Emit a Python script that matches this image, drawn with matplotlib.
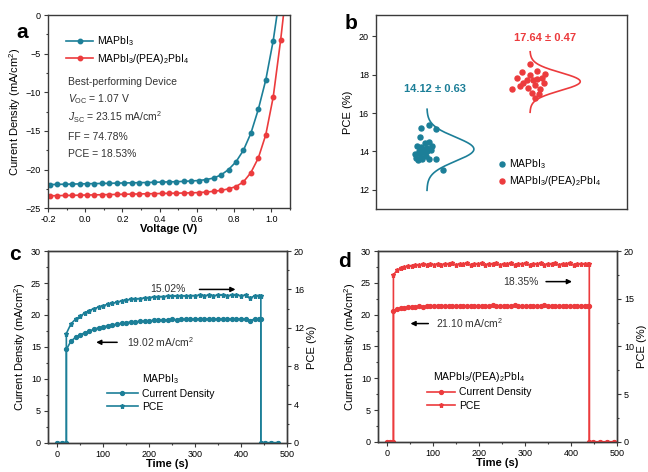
import matplotlib
matplotlib.use('Agg')
import matplotlib.pyplot as plt
import numpy as np

plt.rcParams['font.family'] = ['Liberation Sans', 'DejaVu Sans']
plt.rcParams['mathtext.fontset'] = 'custom'
plt.rcParams['mathtext.rm'] = 'Liberation Sans'
plt.rcParams['mathtext.it'] = 'Liberation Sans:italic'
plt.rcParams['mathtext.bf'] = 'Liberation Sans:bold'
plt.rcParams['mathtext.default'] = 'regular'

TEAL = '#1c7f98'
RED = '#ec3b3d'
SPINE = '#3a3a3a'

# ---- (a) J-V curves ----
voltage = [-0.19, -0.15, -0.11, -0.07, -0.03, 0.01, 0.05, 0.09, 0.13, 0.17, 0.21,
           0.25, 0.29, 0.33, 0.37, 0.41, 0.45, 0.49, 0.53, 0.57, 0.61, 0.65, 0.69,
           0.73, 0.77, 0.81, 0.85, 0.89, 0.93, 0.97, 1.01, 1.05, 1.09]
j_mapbi = [-21.95, -21.92, -21.9, -21.88, -21.86, -21.84, -21.82, -21.8, -21.78, -21.76, -21.74,
           -21.72, -21.7, -21.68, -21.65, -21.62, -21.6, -21.57, -21.53, -21.48, -21.42, -21.3, -21.1,
           -20.7, -20.0, -19.0, -17.5, -15.3, -12.2, -8.4, -3.3, 3.3, 12.0]
j_pea = [-23.4, -23.38, -23.36, -23.34, -23.32, -23.3, -23.28, -23.26, -23.24, -23.22, -23.2,
         -23.18, -23.16, -23.14, -23.12, -23.1, -23.08, -23.06, -23.04, -23.02, -22.98, -22.92, -22.82,
         -22.7, -22.5, -22.2, -21.6, -20.4, -18.5, -15.5, -10.6, -3.2, 5.3]

# ---- (b) PCE statistics ----
pce_x_mapbi = [1.78, 2.10, 2.39, 1.75, 1.62, 1.80, 1.95, 2.12, 2.25, 1.55, 1.70, 1.88, 2.02,
               2.20, 1.60, 1.78, 1.98, 2.10, 1.68, 1.85, 2.40, 2.66, 1.92, 2.05, 1.72]
pce_mapbi = [15.2, 15.38, 15.18, 14.77, 14.3, 14.25, 14.43, 14.5, 14.3, 13.85, 13.92, 13.95, 14.0,
             14.1, 13.65, 13.72, 13.75, 13.6, 13.55, 13.6, 13.62, 13.02, 14.15, 14.2, 14.05]
pce_x_pea = [6.14, 5.80, 6.40, 6.73, 5.60, 6.00, 6.40, 6.67, 5.41, 5.74, 6.07, 6.33, 6.53,
             6.20, 6.47, 6.33, 5.87, 6.60, 6.27, 6.14]
pce_pea = [18.58, 18.15, 18.2, 18.03, 17.85, 17.71, 17.75, 17.57, 17.23, 17.4, 17.33, 17.45, 17.23,
           17.06, 16.99, 16.8, 17.57, 17.85, 17.71, 17.97]
mean_mapbi, std_mapbi = 14.12, 0.63
mean_pea, std_pea = 17.64, 0.47

# ---- (c) steady-state output, MAPbI3 ----
t_c_on = list(range(20, 441, 10))
cd_c_on = [14.6, 15.9, 16.5, 16.9, 17.2, 17.5, 17.75, 18.0, 18.15, 18.3, 18.45, 18.55, 18.7,
           18.8, 18.9, 18.95, 19.0, 19.05, 19.1, 19.15, 19.2, 19.2, 19.25, 19.3, 19.25, 19.3,
           19.35, 19.3, 19.35, 19.4, 19.35, 19.4, 19.35, 19.4, 19.4, 19.35, 19.4, 19.4, 19.35,
           19.4, 19.1, 19.4, 19.4]
pce_c_on = [11.4, 12.4, 12.9, 13.2, 13.55, 13.8, 14.0, 14.15, 14.3, 14.45, 14.55, 14.65, 14.8,
            14.9, 14.95, 15.0, 15.05, 15.1, 15.15, 15.2, 15.25, 15.25, 15.3, 15.3, 15.3, 15.35,
            15.3, 15.35, 15.35, 15.4, 15.35, 15.4, 15.35, 15.4, 15.4, 15.35, 15.4, 15.4, 15.35,
            15.4, 15.1, 15.35, 15.35]

# ---- (d) steady-state output, MAPbI3/(PEA)2PbI4 ----
t_d_on = list(range(14, 439, 8))
cd_d_on = [20.6, 20.9, 21.0, 21.1, 21.15, 21.2, 21.25, 21.3, 21.25, 21.35, 21.3, 21.4, 21.3,
           21.4, 21.3, 21.4, 21.35, 21.4, 21.3, 21.4, 21.35, 21.4, 21.3, 21.4, 21.35, 21.4,
           21.3, 21.45, 21.35, 21.4, 21.3, 21.4, 21.35, 21.45, 21.3, 21.4, 21.35, 21.4, 21.3,
           21.4, 21.35, 21.45, 21.3, 21.4, 21.35, 21.4, 21.3, 21.4, 21.35, 21.4, 21.3, 21.4,
           21.35, 21.4]
pce_d_on = [17.5, 18.0, 18.2, 18.3, 18.4, 18.45, 18.5, 18.5, 18.6, 18.55, 18.65, 18.55, 18.65,
            18.55, 18.65, 18.6, 18.7, 18.55, 18.65, 18.6, 18.7, 18.55, 18.65, 18.6, 18.7, 18.55,
            18.65, 18.6, 18.7, 18.55, 18.65, 18.6, 18.7, 18.55, 18.65, 18.6, 18.7, 18.55, 18.65,
            18.6, 18.7, 18.55, 18.65, 18.6, 18.7, 18.55, 18.65, 18.6, 18.7, 18.55, 18.65, 18.6,
            18.65, 18.6]


def style_axes(ax):
    for sp in ax.spines.values():
        sp.set_color(SPINE)
        sp.set_linewidth(1.0)
    ax.tick_params(which='both', direction='out', labelsize=6.5, width=0.8, color=SPINE,
                   top=False, right=False, pad=2)
    ax.tick_params(which='major', length=3)
    ax.tick_params(which='minor', length=1.6)


fig = plt.figure(figsize=(6.48, 4.72), dpi=100)

# ===== panel a =====
ax_a = fig.add_axes([0.074, 0.559, 0.3735, 0.409])
style_axes(ax_a)
ax_a.plot(voltage, j_mapbi, '-o', color=TEAL, ms=3.2, lw=1.2, label=r'MAPbI$_3$')
ax_a.plot(voltage, j_pea, '-o', color=RED, ms=3.2, lw=1.2, label=r'MAPbI$_3$/(PEA)$_2$PbI$_4$')
ax_a.set_xlim(-0.2, 1.1)
ax_a.set_ylim(-25, 0)
ax_a.set_xticks(np.arange(-0.2, 1.01, 0.2))
ax_a.set_xticks(np.arange(-0.1, 1.1, 0.2), minor=True)
ax_a.set_xticklabels(['-0.2', '0.0', '0.2', '0.4', '0.6', '0.8', '1.0'])
ax_a.set_yticks(np.arange(-25, 1, 5))
ax_a.set_yticks(np.arange(-22.5, 0, 5), minor=True)
ax_a.set_xlabel('Voltage (V)', fontsize=8, fontweight='bold', labelpad=0)
ax_a.set_ylabel('Current Density (mA/cm$^2$)', fontsize=8, labelpad=2)
ax_a.legend(loc='upper left', bbox_to_anchor=(0.075, 0.9), frameon=False, fontsize=7.5,
            handlelength=2.6, handletextpad=0.4, labelspacing=0.35, borderpad=0, borderaxespad=0)
info = ['Best-performing Device', r'$\mathit{V}_{\rm OC}$ = 1.07 V',
        r'$\mathit{J}_{\rm SC}$ = 23.15 mA/cm$^2$', 'FF = 74.78%', 'PCE = 18.53%']
info_y = [0.654, 0.564, 0.473, 0.37, 0.283]
for s, yy in zip(info, info_y):
    ax_a.text(0.084, yy, s, transform=ax_a.transAxes, fontsize=7.5, va='center', color='#333333')
ax_a.text(-0.105, 0.91, 'a', transform=ax_a.transAxes, fontsize=15, fontweight='bold',
          ha='center', va='center')

# ===== panel b =====
ax_b = fig.add_axes([0.580, 0.557, 0.388, 0.411])
style_axes(ax_b)
ax_b.set_xlim(0, 10)
ax_b.set_ylim(11, 21.1)
ax_b.set_xticks([])
ax_b.set_yticks(np.arange(12, 21, 2))
ax_b.scatter(pce_x_mapbi, pce_mapbi, s=13, color=TEAL, label=r'MAPbI$_3$', zorder=3)
ax_b.scatter(pce_x_pea, pce_pea, s=13, color=RED, label=r'MAPbI$_3$/(PEA)$_2$PbI$_4$', zorder=3)
for mu, sd, base, amp, col in [(mean_mapbi, std_mapbi, 2.03, 1.87, TEAL),
                               (mean_pea, std_pea, 6.13, 2.0, RED)]:
    yy = np.linspace(mu - 3.4 * sd, mu + 3.3 * sd, 200)
    ax_b.plot(base + amp * np.exp(-(yy - mu) ** 2 / (2 * sd ** 2)), yy, color=col, lw=1.2)
ax_b.text(2.35, 17.25, '14.12 ± 0.63', color=TEAL, fontsize=8, fontweight='bold', ha='center',
          va='center')
ax_b.text(6.75, 19.9, '17.64 ± 0.47', color=RED, fontsize=8, fontweight='bold', ha='center',
          va='center')
ax_b.set_ylabel('PCE (%)', fontsize=8, labelpad=4)
ax_b.legend(loc='upper left', bbox_to_anchor=(0.49, 0.27), frameon=False, fontsize=7.5,
            handlelength=0.6, handletextpad=0.4, labelspacing=0.3, borderpad=0, borderaxespad=0,
            scatterpoints=1)
ax_b.text(-0.1, 0.955, 'b', transform=ax_b.transAxes, fontsize=15, fontweight='bold',
          ha='center', va='center')


# ===== panels c, d =====
def stability_panel(rect, t_on, cd_on, pce_on, t_pre, t_post, color, pce_ticks, pce_minor,
                    title, arrow_txt_pce, arrow_txt_cd, pos, letter, letter_y):
    t = t_pre + t_on + [t_post[0]] + t_post
    cd = [0] * len(t_pre) + cd_on + [cd_on[-1]] + [0] * len(t_post)
    pce = [0] * len(t_pre) + pce_on + [pce_on[-1]] + [0] * len(t_post)
    ax = fig.add_axes(rect)
    style_axes(ax)
    ax2 = ax.twinx()
    style_axes(ax2)
    ax2.tick_params(which='both', right=True, left=False, labelright=True, labelleft=False)
    l1, = ax.plot(t, cd, '-o', color=color, ms=2.8, lw=1.2)
    l2, = ax2.plot(t, pce, '-*', color=color, ms=3.6, lw=1.2)
    ax.set_xlim(-20, 500)
    ax.set_ylim(0, 30)
    ax2.set_ylim(0, 20)
    ax.set_xticks(np.arange(0, 501, 100))
    ax.set_xticks(np.arange(50, 500, 100), minor=True)
    ax.set_yticks(np.arange(0, 31, 5))
    ax.set_yticks(np.arange(2.5, 30, 5), minor=True)
    ax2.set_yticks(pce_ticks)
    ax2.set_yticks(pce_minor, minor=True)
    ax.set_xlabel('Time (s)', fontsize=8, fontweight='bold', labelpad=0)
    ax.set_ylabel('Current Density (mA/cm$^2$)', fontsize=8, labelpad=2)
    ax2.set_ylabel('PCE (%)', fontsize=8, labelpad=2)
    ax2.legend([l1, l2], ['Current Density', 'PCE'], title=title, loc='upper left',
               bbox_to_anchor=pos['legend'], frameon=False, fontsize=7.5, title_fontsize=7.5,
               handlelength=pos['hl'], handletextpad=0.4, labelspacing=0.3, borderpad=0,
               borderaxespad=0)
    ax.text(pos['pce_txt'][0], pos['pce_txt'][1], arrow_txt_pce, transform=ax.transAxes,
            fontsize=7.5, ha='right', va='center', color='#333333')
    ax.annotate('', xy=(pos['pce_arr'][1], pos['pce_txt'][1]), xycoords='axes fraction',
                xytext=(pos['pce_arr'][0], pos['pce_txt'][1]), textcoords='axes fraction',
                arrowprops=dict(arrowstyle='-|>', color='black', lw=1.1, mutation_scale=7))
    ax.text(pos['cd_txt'][0], pos['cd_txt'][1], arrow_txt_cd, transform=ax.transAxes,
            fontsize=7.5, ha='left', va='center', color='#333333')
    ax.annotate('', xy=(pos['cd_arr'][1], pos['cd_txt'][1]), xycoords='axes fraction',
                xytext=(pos['cd_arr'][0], pos['cd_txt'][1]), textcoords='axes fraction',
                arrowprops=dict(arrowstyle='-|>', color='black', lw=1.1, mutation_scale=7))
    ax.text(-0.138, letter_y, letter, transform=ax.transAxes, fontsize=15, fontweight='bold',
            ha='center', va='center')
    return ax


stability_panel([0.074, 0.062, 0.369, 0.406], t_c_on, cd_c_on, pce_c_on,
                [0, 10, 20], [443, 452, 466, 480], TEAL,
                np.arange(0, 21, 4), np.arange(2, 20, 4), r'MAPbI$_3$',
                '15.02%', '19.02 mA/cm$^2$',
                dict(legend=(0.245, 0.37), hl=3.0, pce_txt=(0.575, 0.80), pce_arr=(0.622, 0.796),
                     cd_txt=(0.329, 0.524), cd_arr=(0.301, 0.19)),
                'c', 0.98)

stability_panel([0.583, 0.064, 0.369, 0.404], t_d_on, cd_d_on, pce_d_on,
                [0, 7, 14], [440, 449, 464, 479, 493], RED,
                np.arange(0, 21, 5), np.arange(2.5, 20, 5), r'MAPbI$_3$/(PEA)$_2$PbI$_4$',
                '18.35%', '21.10 mA/cm$^2$',
                dict(legend=(0.204, 0.375), hl=2.7, pce_txt=(0.671, 0.84), pce_arr=(0.692, 0.824),
                     cd_txt=(0.245, 0.62), cd_arr=(0.223, 0.125)),
                'd', 0.944)

fig.savefig('out.png', dpi=100)
